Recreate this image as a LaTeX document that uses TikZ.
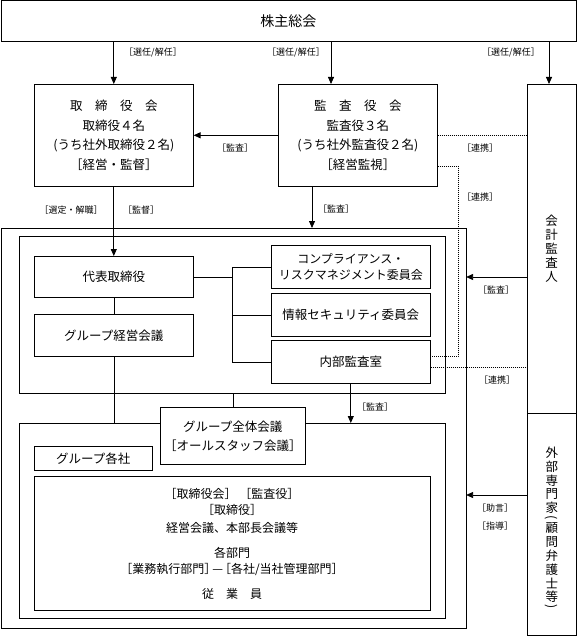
\documentclass[tikz,border=0pt]{standalone}
\usepackage{fontspec}
\setmainfont{Noto Sans CJK JP}
\usetikzlibrary{arrows.meta}
\begin{document}
\begin{tikzpicture}[x=1pt,y=-1pt,
  box/.style={draw, line width=0.6pt, inner sep=0pt, anchor=north west, align=center, font=\fontsize{12.5}{19.5}\selectfont},
  txt/.style={inner sep=0pt, font=\fontsize{12}{14}\selectfont},
  vt/.style={inner sep=0pt, font=\fontsize{12.5}{14}\selectfont},
  lbl/.style={inner sep=0pt, font=\fontsize{9}{10}\selectfont},
  arr/.style={line width=0.8pt, -{Triangle[length=7pt,width=6pt]}},
  ln/.style={line width=0.6pt},
  dot/.style={line width=0.9pt, dash pattern=on 0.9pt off 1.1pt}]
\useasboundingbox (0,0) rectangle (576,636);

% containers
\node[box, minimum width=575pt, minimum height=41pt, font=\fontsize{14}{16}\selectfont] (agm) at (0.5,0.5) {株主総会};
\node[box, minimum width=465pt, minimum height=400pt] (outer) at (0.5,228) {};
\node[box, minimum width=426pt, minimum height=157pt] (exec) at (19,236) {};
\node[box, minimum width=426pt, minimum height=195pt] (group) at (19,423) {};

% boards
\node[box, minimum width=159pt, minimum height=102pt] (board) at (34,84) {取　締　役　会\\取締役４名\\(うち社外取締役２名)\\［経営・監督］};
\node[box, minimum width=159pt, minimum height=102pt] (kansa) at (278,84) {監　査　役　会\\監査役３名\\(うち社外監査役２名)\\［経営監視］};

% right column
\node[box, minimum width=48.5pt, minimum height=329pt, font=\fontsize{12.5}{14}\selectfont] (acct) at (527,84) {会\\計\\監\\査\\人};
\node[box, minimum width=48.5pt, minimum height=222pt] (ext) at (527,413) {};
\foreach \c/\yy [count=\i] in {外/453,部/467,専/481,門/494,家/508,顧/528,問/542,弁/556,護/570,士/583,等/597}
  \node[vt] (ext\i) at (551.75,\yy) {\c};
\node[vt, rotate=-90] (extpl) at (551.75,518) {(};
\node[vt, rotate=-90] (extpr) at (551.75,607) {)};

% executive area
\node[box, minimum width=159pt, minimum height=41pt] (daihyo) at (34,256) {代表取締役};
\node[box, minimum width=159pt, minimum height=42pt] (keiei) at (34,314) {グループ経営会議};
\node[box, minimum width=159pt, minimum height=43pt, font=\fontsize{12}{16}\selectfont] (comp) at (271,245) {コンプライアンス・\\リスクマネジメント委員会};
\node[box, minimum width=159pt, minimum height=43pt] (info) at (271,293) {情報セキュリティ委員会};
\node[box, minimum width=159pt, minimum height=43pt] (naibu) at (271,340) {内部監査室};

% group area
\node[box, fill=white, minimum width=145pt, minimum height=57pt, font=\fontsize{12.5}{19}\selectfont] (zentai) at (160,407) {グループ全体会議\\［オールスタッフ会議］};
\node[box, minimum width=118pt, minimum height=24pt] (kakusha) at (34,446) {グループ各社};
\node[box, minimum width=396pt, minimum height=134pt] (content) at (34,476) {};
\node[txt] (c1) at (232,494) {［取締役会］ ［監査役］};
\node[txt] (c2) at (232,510) {［取締役］};
\node[txt] (c3) at (232,528) {経営会議、本部長会議等};
\node[txt] (c4) at (232,553) {各部門};
\node[txt] (c5) at (232,569) {［業務執行部門］\kern-4pt—\kern-4pt［各社/当社管理部門］};
\node[txt] (c6) at (232,594) {従　業　員};

% helper coordinates
\coordinate (m1) at (331,0);
\coordinate (m3) at (549,0);
\coordinate (m2) at (312,0);
\coordinate (j) at (232,0);
\coordinate (d1) at (458,166);
\coordinate (d2) at (458,356);
\coordinate (d3) at (0,367);
\coordinate (a1) at (0,277);
\coordinate (a2) at (0,495);

% appointment arrows
\draw[arr] (agm.south -| board.north) -- (board.north);
\draw[arr] (agm.south -| m1) -- (kansa.north -| m1);
\draw[arr] (agm.south -| m3) -- (acct.north -| m3);
\node[lbl] (l1) at (153,53) {［選任/解任］};
\node[lbl] (l2) at (296,53) {［選任/解任］};
\node[lbl] (l3) at (511,53) {［選任/解任］};

% audit board -> board
\draw[arr] (kansa.west) -- (board.east);
\node[lbl] (l4) at (235,148) {［監査］};

% board -> representative director
\draw[arr] (board.south) -- (daihyo.north);
\node[lbl] (l5) at (71,210) {［選定・解職］};
\node[lbl] (l6) at (141,210) {［監督］};

% audit board -> outer
\draw[arr] (kansa.south -| m2) -- (outer.north -| m2);
\node[lbl] (l7) at (336,209) {［監査］};

% dotted cooperation lines
\draw[dot] (kansa.east) -- (acct.west |- kansa.east);
\node[lbl] (l8) at (480,148) {［連携］};
\draw[dot] (kansa.east |- d1) -- (d1) -- (d2) -- (naibu.east |- d2);
\node[lbl] (l9) at (480,197) {［連携］};
\draw[dot] (naibu.east |- d3) -- (acct.west |- d3);
\node[lbl] (l10) at (497,380) {［連携］};

% accounting auditor -> outer
\draw[arr] (acct.west |- a1) -- (outer.east |- a1);
\node[lbl] (l11) at (496,290) {［監査］};

% external experts -> outer
\draw[arr] (ext.west |- a2) -- (outer.east |- a2);
\node[lbl] (l12) at (495,508) {［助言］};
\node[lbl] (l13) at (495,526) {［指導］};

% tree from representative director
\draw[ln] (daihyo.east) -- (daihyo.east -| j);
\draw[ln] (comp.west) -- (comp.west -| j) -- (naibu.west -| j) -- (naibu.west);
\draw[ln] (info.west) -- (info.west -| j);
\draw[ln] (daihyo.south) -- (keiei.north);
\draw[ln] (keiei.south) -- (keiei.south |- group.north);
\draw[ln] (exec.south -| zentai.north) -- (zentai.north);

% internal audit -> group
\draw[arr] (naibu.south) -- (naibu.south |- group.north);
\node[lbl] (l14) at (375,407) {［監査］};
\end{tikzpicture}
\end{document}
